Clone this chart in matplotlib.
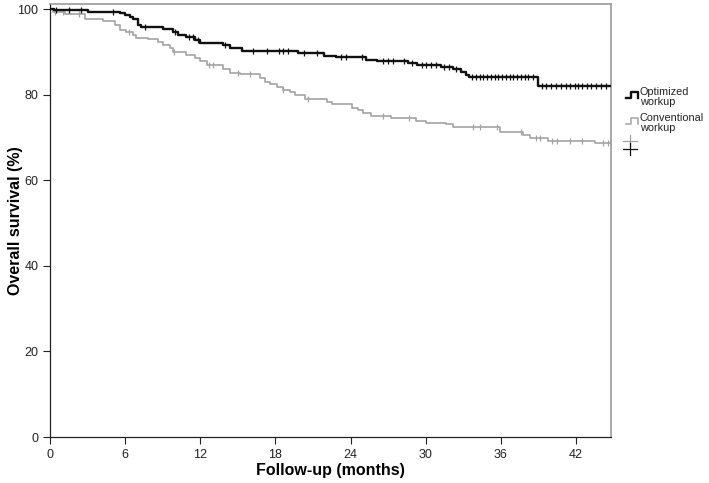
import matplotlib
matplotlib.use("Agg")
import matplotlib.pyplot as plt
from matplotlib.lines import Line2D
import numpy as np

# ---- data ----
opt_times = [0, 0.3, 3.0, 5.6, 6.0, 6.4, 6.6, 7.0, 7.3, 9.0, 9.8, 10.2, 10.9, 11.6, 12.0,
             13.8, 14.4, 15.3, 19.8, 21.9, 22.8, 25.2, 26.1, 28.6, 29.3, 31.2, 32.2,
             32.8, 33.2, 33.5, 39.0]
opt_surv = [100, 99.8, 99.4, 99.0, 98.6, 98.2, 97.7, 96.3, 95.9, 95.3, 94.7, 93.9, 93.5, 92.9, 92.0,
            91.6, 91.0, 90.2, 89.7, 89.1, 88.9, 88.2, 87.8, 87.5, 86.9, 86.5, 85.9,
            85.3, 84.7, 84.1, 82.1]
opt_end = 44.8
opt_censor = [0.5, 1.5, 2.5, 5.0, 7.6, 10.0, 11.1, 11.4, 11.8, 14.0, 16.2, 17.3, 18.3, 18.6,
              19.0, 20.3, 21.3, 23.2, 23.6, 24.9, 26.6, 27.0, 27.4, 28.3, 28.9, 29.7, 30.0,
              30.4, 30.8, 31.5, 31.9, 32.4, 33.7, 34.0, 34.3, 34.6, 34.9, 35.2, 35.5, 35.8,
              36.1, 36.4, 36.7, 37.0, 37.3, 37.6, 37.9, 38.2, 38.6, 39.3, 39.6, 40.0, 40.4,
              40.8, 41.2, 41.5, 41.9, 42.2, 42.5, 42.9, 43.2, 43.6, 44.0, 44.4]

conv_times = [0, 0.2, 1.2, 2.8, 4.2, 5.2, 5.6, 6.1, 6.6, 6.9, 7.8, 8.6, 9.0, 9.6, 9.8,
              10.9, 11.6, 12.0, 12.5, 13.8, 14.4, 15.2, 16.8, 17.2, 17.6, 18.1, 18.6,
              19.2, 19.6, 20.4, 22.1, 22.5, 24.1, 24.6, 25.0, 25.6, 27.2, 29.2, 30.0,
              31.6, 32.2, 35.9, 37.8, 38.3, 39.8, 43.5]
conv_surv = [100, 99.4, 98.8, 97.8, 97.3, 96.3, 95.1, 94.7, 93.9, 93.3, 93.0, 92.4, 91.6, 90.8, 90.0,
             89.3, 88.5, 87.9, 86.9, 85.9, 85.1, 84.8, 83.8, 83.0, 82.4, 81.8, 81.2,
             80.7, 79.9, 78.9, 78.3, 77.8, 77.0, 76.4, 75.8, 75.0, 74.5, 73.9, 73.4,
             73.1, 72.5, 71.3, 70.6, 69.8, 69.2, 68.6]
conv_end = 44.8
conv_censor = [0.4, 1.0, 2.3, 6.3, 9.9, 12.7, 13.0, 15.0, 16.0, 18.6, 20.6, 26.6, 28.7,
               33.8, 34.3, 35.7, 37.6, 38.8, 39.1, 40.1, 40.5, 41.5, 42.5, 44.2, 44.6]

x_ticks = [0, 6, 12, 18, 24, 30, 36, 42]
y_ticks = [0, 20, 40, 60, 80, 100]
labels = ["Optimized\nworkup", "Conventional\nworkup"]

BLACK = "#111111"
GRAY = "#a3a3a3"
plt.rcParams['font.family'] = ["Liberation Sans", "DejaVu Sans"]

fig = plt.figure(figsize=(7.09, 4.83), dpi=100)
ax = fig.add_axes([50/709, 46/483, 561/709, 433/483])


def surv_at(times, surv, t):
    idx = np.searchsorted(times, t, side='right') - 1
    return np.array(surv)[idx]


for times, surv, end, cens, col, lw, z in [
        (conv_times, conv_surv, conv_end, conv_censor, GRAY, 1.2, 2),
        (opt_times, opt_surv, opt_end, opt_censor, BLACK, 1.7, 3)]:
    xt = list(times) + [end]
    yt = list(surv) + [surv[-1]]
    ax.step(xt, yt, where='post', color=col, lw=lw, zorder=z)
    ax.plot(cens, surv_at(times, surv, cens), linestyle='none', marker='|',
            markersize=5, markeredgewidth=0.9, color=col, zorder=z)

ax.set_xlim(0, 44.8)
ax.set_ylim(0, 101.2)
ax.set_xticks(x_ticks)
ax.set_yticks(y_ticks)
ax.tick_params(direction='out', length=5, width=0.8, labelsize=9, colors='#222222')
for s in ['left', 'bottom']:
    ax.spines[s].set_color('#222222')
    ax.spines[s].set_linewidth(0.9)
for s in ['top', 'right']:
    ax.spines[s].set_color('#999999')
    ax.spines[s].set_linewidth(1.2)

ax.set_xlabel("Follow-up (months)", fontsize=11.5, fontweight='bold')
ax.set_ylabel("Overall survival (%)", fontsize=11.5, fontweight='bold')
ax.xaxis.set_label_coords(0.5, -0.06)
ax.yaxis.set_label_coords(-0.048, 0.5)

# ---- legend drawn outside, to the right ----
def fx(px):
    return px / 709


def fy(py):
    return 1 - py / 483


def step_glyph(x0, y0, col, lw):
    xs = [x0, x0 + 5, x0 + 5, x0 + 12, x0 + 12]
    ys = [y0 + 3, y0 + 3, y0 - 3, y0 - 3, y0 + 3]
    fig.add_artist(Line2D([fx(v) for v in xs], [fy(v) for v in ys],
                          color=col, lw=lw, transform=fig.transFigure))


step_glyph(626, 95, BLACK, 1.7)
fig.text(fx(640), fy(97), labels[0], fontsize=7.8, va='center', ha='left',
         linespacing=0.95, color='#222222')
step_glyph(626, 121, GRAY, 1.1)
fig.text(fx(640), fy(123), labels[1], fontsize=7.8, va='center', ha='left',
         linespacing=0.95, color='#222222')
for py, col in [(141, GRAY), (149, BLACK)]:
    fig.add_artist(Line2D([fx(623), fx(637)], [fy(py), fy(py)], color=col, lw=0.9,
                          transform=fig.transFigure))
    fig.add_artist(Line2D([fx(630), fx(630)], [fy(py - 6), fy(py + 6)], color=col, lw=0.9,
                          transform=fig.transFigure))

fig.savefig("out.png", dpi=100)
